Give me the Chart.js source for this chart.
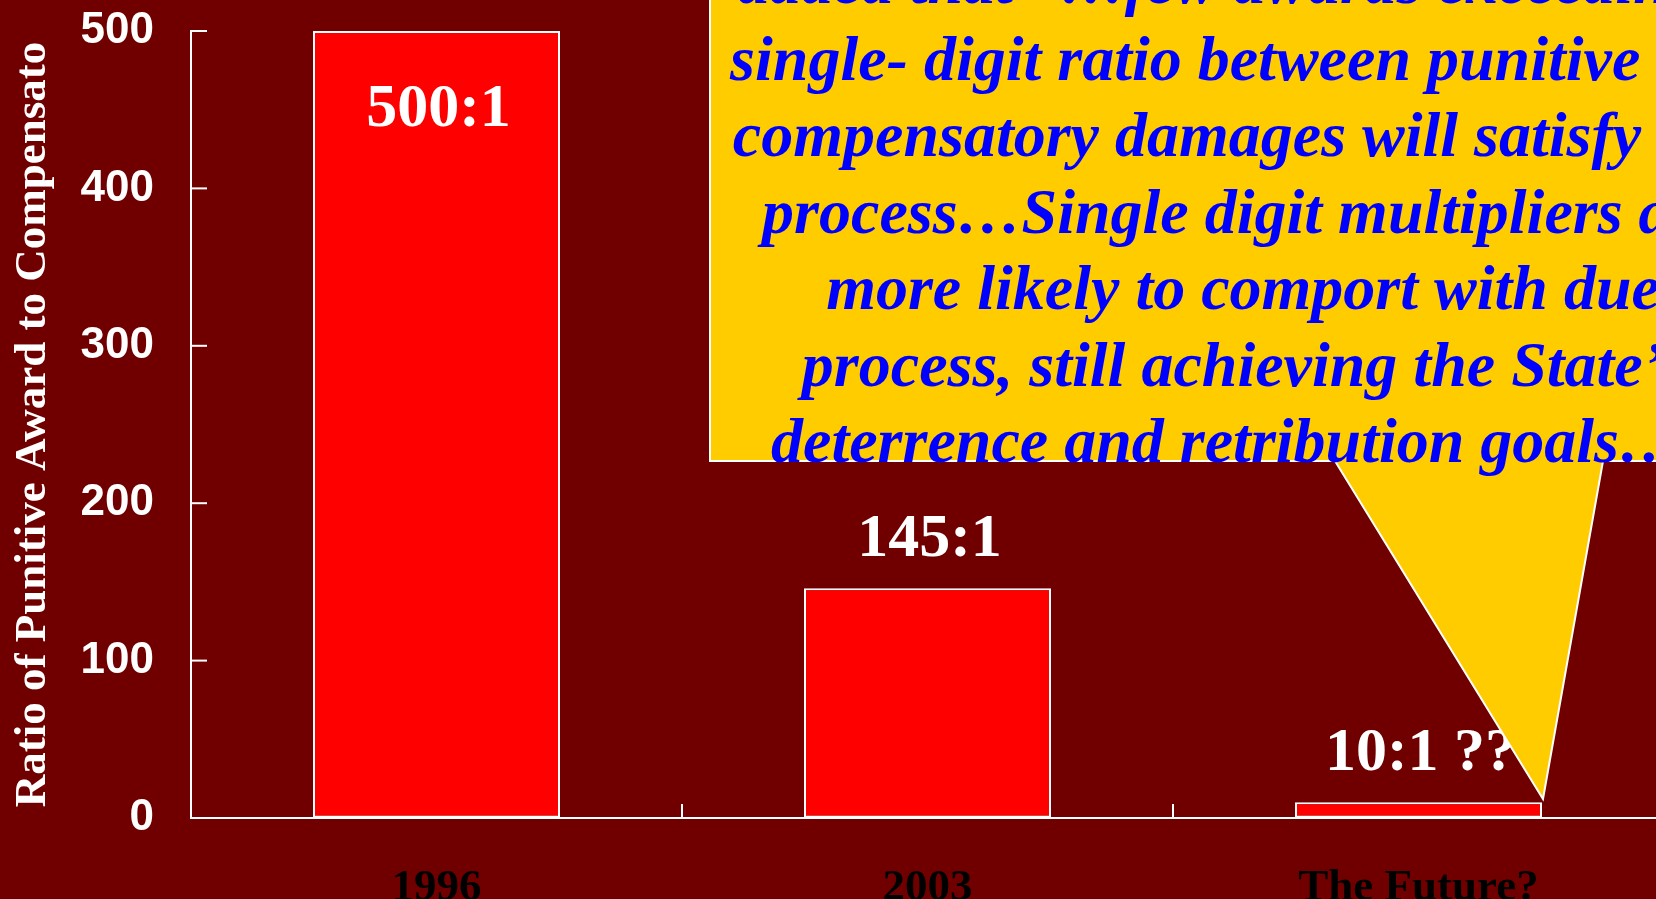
<!DOCTYPE html>
<html>
<head>
<meta charset="utf-8">
<script src="https://cdn.jsdelivr.net/npm/chart.js@4"></script>
<style>
  html, body { margin: 0; padding: 0; background: #700000; overflow: hidden; }
  #wrap { position: absolute; left: 0; top: 0; width: 1670px; height: 899px; }
</style>
</head>
<body>
<div id="wrap"><canvas id="ratioChart"></canvas></div>
<script>
// values
const categories = ["1996", "2003", "The Future?"];
const ratios = [500, 146, 10];
const ratioLabels = ["500:1", "145:1", "10:1 ??"];
const yTitle = "Ratio of Punitive Award to Compensato";
const calloutLines = [
  "added that \u201c\u2026few awards exceeding a",
  "single- digit ratio between punitive and",
  "compensatory damages will satisfy due",
  "process\u2026Single digit multipliers are",
  "more likely to comport with due",
  "process, still achieving the State\u2019s",
  "deterrence and retribution goals\u2026\u201d",
];

const serif = "'Liberation Serif', 'Times New Roman', serif";
const sans = "'Liberation Sans', Arial, sans-serif";

const overlay = {
  id: "overlay",
  afterDatasetsDraw(chart) {
    const { ctx, chartArea, scales } = chart;
    const xs = scales.x;
    const ys = scales.y;
    ctx.save();
    ctx.strokeStyle = "#ffffff";
    ctx.lineWidth = 2;

    // tick marks pointing into the plot
    ys.ticks.forEach((t) => {
      const py = ys.getPixelForValue(t.value);
      ctx.beginPath();
      ctx.moveTo(chartArea.left, py);
      ctx.lineTo(chartArea.left + 16, py);
      ctx.stroke();
    });
    const step = xs.getPixelForTick(1) - xs.getPixelForTick(0);
    for (let i = 0; i < categories.length; i++) {
      const px = xs.getPixelForTick(i) + step / 2;
      ctx.beginPath();
      ctx.moveTo(px, chartArea.bottom);
      ctx.lineTo(px, chartArea.bottom - 14);
      ctx.stroke();
    }

    // ratio labels
    ctx.fillStyle = "#ffffff";
    ctx.font = "bold 62px " + serif;
    ctx.textAlign = "center";
    ctx.textBaseline = "alphabetic";
    chart.getDatasetMeta(0).data.forEach((bar, i) => {
      let ly = bar.y - 32;
      if (ly - 45 < chartArea.top) ly = bar.y + 95;
      ctx.fillText(ratioLabels[i], bar.x + 2, ly);
    });
    ctx.restore();
  },
  afterDraw(chart) {
    const { ctx } = chart;
    ctx.save();
    // yellow speech bubble
    ctx.beginPath();
    ctx.moveTo(710, -10);
    ctx.lineTo(710, 461);
    ctx.lineTo(1335, 461);
    ctx.lineTo(1543, 799);
    ctx.lineTo(1603, 461);
    ctx.lineTo(1700, 461);
    ctx.lineTo(1700, -10);
    ctx.closePath();
    ctx.fillStyle = "#ffcc00";
    ctx.fill();
    ctx.strokeStyle = "#ffffff";
    ctx.lineWidth = 2;
    ctx.stroke();

    ctx.fillStyle = "#0000ff";
    ctx.font = "italic bold 64px " + serif;
    ctx.textAlign = "center";
    ctx.textBaseline = "alphabetic";
    calloutLines.forEach((line, i) => {
      ctx.fillText(line, 1243, 3 + i * 76.5);
    });
    ctx.restore();
  },
};

const ctx = document.getElementById("ratioChart").getContext("2d");
new Chart(ctx, {
  type: "bar",
  data: {
    labels: categories,
    datasets: [
      {
        data: ratios,
        backgroundColor: "#ff0000",
        borderColor: "#ffffff",
        borderWidth: 2,
        borderSkipped: false,
        categoryPercentage: 1,
        barPercentage: 0.503,
      },
    ],
  },
  options: {
    responsive: true,
    maintainAspectRatio: false,
    animation: false,
    layout: { padding: { top: 31, right: 6, left: 0, bottom: 0 } },
    plugins: {
      legend: { display: false },
      tooltip: { enabled: false },
    },
    scales: {
      x: {
        grid: { display: false },
        border: { color: "#ffffff", width: 2 },
        ticks: {
          color: "#000000",
          padding: 35,
          font: { family: serif, size: 45, weight: "bold" },
        },
        afterFit: (scale) => {
          scale.height = 81;
        },
      },
      y: {
        min: 0,
        max: 500,
        grid: {
          display: true,
          drawOnChartArea: false,
          drawTicks: true,
          tickLength: 37,
          tickColor: "rgba(0,0,0,0)",
        },
        border: { color: "#ffffff", width: 2 },
        ticks: {
          stepSize: 100,
          color: "#ffffff",
          padding: 0,
          font: { family: sans, size: 44, weight: "bold" },
        },
        title: {
          display: true,
          text: yTitle,
          color: "#ffffff",
          padding: { top: 6, bottom: 0 },
          font: { family: serif, size: 45, weight: "bold" },
        },
        afterFit: (scale) => {
          scale.width = 191;
        },
      },
    },
  },
  plugins: [overlay],
});
</script>
</body>
</html>
